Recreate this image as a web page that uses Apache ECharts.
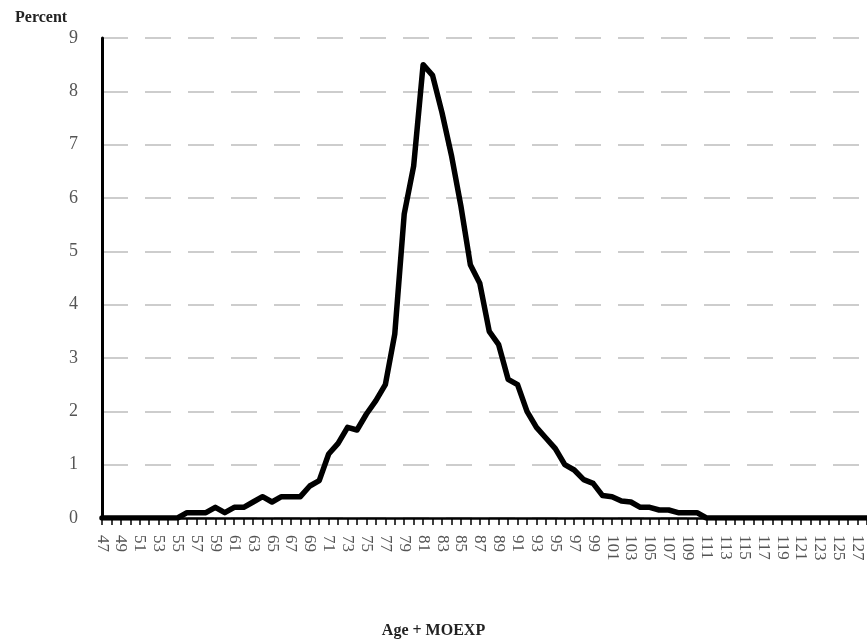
<!DOCTYPE html>
<html>
<head>
<meta charset="utf-8">
<script src="https://cdn.jsdelivr.net/npm/echarts@6/dist/echarts.min.js"></script>
<style>
html,body{margin:0;padding:0;background:#fff;}
#chart{width:867px;height:643px;}
</style>
</head>
<body>
<div id="chart"></div>
<script>
// Ages (categories) 47..128
var ages = [47,48,49,50,51,52,53,54,55,56,57,58,59,60,61,62,63,64,65,66,67,68,69,70,71,72,73,74,75,76,77,78,79,80,81,82,83,84,85,86,87,88,89,90,91,92,93,94,95,96,97,98,99,100,101,102,103,104,105,106,107,108,109,110,111,112,113,114,115,116,117,118,119,120,121,122,123,124,125,126,127,128];
// Percent for each age
var percent = [
  0,0,0,0,0,0,0,0,0,          // 47-55
  0.1,0.1,0.1,0.2,0.1,        // 56-60
  0.2,0.2,0.3,0.4,0.3,        // 61-65
  0.4,0.4,0.4,0.6,0.7,        // 66-70
  1.2,1.4,1.7,1.65,1.95,      // 71-75
  2.2,2.5,3.45,5.7,6.6,       // 76-80
  8.5,8.3,7.6,6.8,5.85,       // 81-85
  4.75,4.4,3.5,3.25,2.6,      // 86-90
  2.5,2.0,1.7,1.5,1.3,        // 91-95
  1.0,0.9,0.72,0.65,0.42,     // 96-100
  0.4,0.32,0.3,0.2,0.2,       // 101-105
  0.15,0.15,0.1,0.1,0.1,      // 106-110
  0,0,0,0,0,0,0,0,0,0,0,0,0,0,0,0,0,0 // 111-128
];
var yTicks = [0,1,2,3,4,5,6,7,8,9];
var yTitle = "Percent";
var xTitle = "Age + MOEXP";

var chart = echarts.init(document.getElementById('chart'), null, {renderer:'canvas'});
var serif = "'Liberation Serif','DejaVu Serif',serif";
chart.setOption({
  animation:false,
  backgroundColor:'#fff',
  title:[
    {text:yTitle, left:10, top:5, textStyle:{fontFamily:serif, fontWeight:'bold', fontSize:16, color:'#222'}},
    {text:xTitle, left:'center', top:618, textStyle:{fontFamily:serif, fontWeight:'bold', fontSize:16, color:'#222'}}
  ],
  grid:{left:102, right:0, top:38, bottom:125, containLabel:false},
  xAxis:{
    type:'category',
    data:ages.map(String),
    boundaryGap:false,
    axisLine:{show:true, lineStyle:{color:'#000', width:2.5}},
    axisTick:{show:true, interval:0, length:7, lineStyle:{color:'#000', width:1.5}},
    axisLabel:{interval:1, rotate:-90, margin:17, fontFamily:serif, fontSize:17, color:'#555'},
    splitLine:{show:false}
  },
  yAxis:{
    type:'value',
    min:yTicks[0], max:yTicks[yTicks.length-1], interval:1,
    axisLine:{show:true, lineStyle:{color:'#000', width:3}},
    axisTick:{show:false},
    axisLabel:{margin:24, fontFamily:serif, fontSize:18, color:'#555'},
    splitLine:{show:true, lineStyle:{color:'#bdbdbd', width:1.5, type:[26,17]}}
  },
  series:[{
    type:'line',
    data:percent,
    symbol:'none',
    smooth:false,
    lineStyle:{color:'#000', width:5.5, join:'round', cap:'round'},
    z:5
  }]
});
</script>
</body>
</html>
